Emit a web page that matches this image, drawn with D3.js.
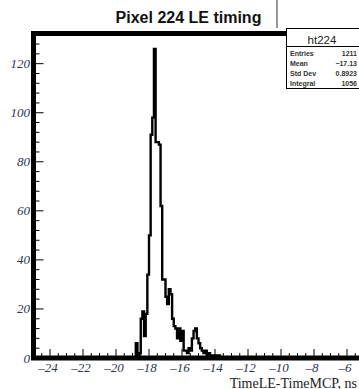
<!DOCTYPE html>
<html>
<head>
<meta charset="utf-8">
<script src="https://cdn.jsdelivr.net/npm/d3@7"></script>
<style>
  html, body { margin: 0; padding: 0; background: #fff; overflow: hidden; }
  svg { display: block; }
</style>
</head>
<body>
<div id="chart"></div>
<script>
// histogram ht224: bins of 0.1 ns starting at -19.0
const binStart = -19.0;
const binWidth = 0.1;
const counts = [
    0, 0, 6, 0, 2, 16, 19, 9, 18, 34,
    50, 91, 98, 126, 88, 88, 87, 62, 32, 32,
    25, 22, 28, 26, 16, 13, 12, 8, 12, 7,
    11, 3, 3, 2, 4, 3, 8, 11, 12, 8,
    6, 4, 3, 2, 3, 1, 2, 1, 1, 0,
    1, 0, 1, 0
];
const xTicks = [-24, -22, -20, -18, -16, -14, -12, -10, -8, -6];
const yTicks = [0, 20, 40, 60, 80, 100, 120];
const statNames = ['Entries', 'Mean', 'Std Dev', 'Integral'];
const statValues = ['1211', '\u221217.13', '0.8923', '1056'];

const width = 359, height = 389;
const svg = d3.select('#chart').append('svg')
    .attr('width', width)
    .attr('height', height);

const x = d3.scaleLinear().domain([-25, -5]).range([33.5, 363.5]);
const y = d3.scaleLinear().domain([0, 132.3]).range([358, 33.5]);

const labelColor = '#2f3550';

// Title
svg.append('text')
    .attr('x', 188.5)
    .attr('y', 23)
    .attr('text-anchor', 'middle')
    .style('font-family', '"Liberation Sans", Arial, sans-serif')
    .style('font-weight', 'bold')
    .style('font-size', '16px')
    .style('fill', '#111')
    .text('Pixel 224 LE timing');

svg.append('line')
    .attr('x1', 277).attr('x2', 277)
    .attr('y1', 0).attr('y2', 28)
    .attr('stroke', '#333')
    .attr('stroke-width', 1);

// Histogram step line
const pts = [{ v: binStart, c: 0 }];
counts.forEach((c, i) => pts.push({ v: binStart + i * binWidth, c }));
pts.push({ v: binStart + counts.length * binWidth, c: 0 });

const line = d3.line()
    .x(d => x(d.v))
    .y(d => y(d.c))
    .curve(d3.curveStepAfter);

svg.append('path')
    .datum(pts)
    .attr('fill', 'none')
    .attr('stroke', '#000')
    .attr('stroke-width', 2.4)
    .attr('stroke-linejoin', 'miter')
    .attr('d', line);

// Ticks (inside the frame)
const g = svg.append('g');
d3.range(-25, -5.01, 0.5).forEach(v => {
    const major = Math.abs(v % 2) < 1e-6;
    g.append('line')
        .attr('x1', x(v)).attr('x2', x(v))
        .attr('y1', y(0)).attr('y2', y(0) - (major ? 9 : 5))
        .attr('stroke', '#000').attr('stroke-width', 1);
});
d3.range(0, 133, 4).forEach(v => {
    const major = v % 20 === 0;
    g.append('line')
        .attr('x1', x(-25)).attr('x2', x(-25) + (major ? 10 : 6))
        .attr('y1', y(v)).attr('y2', y(v))
        .attr('stroke', '#000').attr('stroke-width', 1);
});

// Frame
svg.append('rect')
    .attr('x', x(-25))
    .attr('y', y(132.3))
    .attr('width', x(-5) - x(-25))
    .attr('height', y(0) - y(132.3))
    .attr('fill', 'none')
    .attr('stroke', '#000')
    .attr('stroke-width', 5);

// Axis labels
const fmt = d => (d < 0 ? '\u2013' : '') + Math.abs(d);
svg.append('g').selectAll('text')
    .data(xTicks).enter().append('text')
    .attr('x', d => x(d) - 2)
    .attr('y', 372)
    .attr('text-anchor', 'middle')
    .style('font-family', '"Liberation Serif", "Times New Roman", serif')
    .style('font-style', 'italic')
    .style('font-size', '13px')
    .style('fill', labelColor)
    .text(fmt);

svg.append('g').selectAll('text')
    .data(yTicks).enter().append('text')
    .attr('x', 30)
    .attr('y', d => y(d) + 4.5)
    .attr('text-anchor', 'end')
    .style('font-family', '"Liberation Serif", "Times New Roman", serif')
    .style('font-style', 'italic')
    .style('font-size', '13px')
    .style('fill', labelColor)
    .text(d => d);

svg.append('text')
    .attr('x', 357)
    .attr('y', 387.5)
    .attr('text-anchor', 'end')
    .style('font-family', '"Liberation Serif", "Times New Roman", serif')
    .style('font-size', '14px')
    .style('fill', '#222')
    .text('TimeLE-TimeMCP, ns');

// Stats box
const box = svg.append('g');
box.append('rect')
    .attr('x', 286.5).attr('y', 28.5)
    .attr('width', 76).attr('height', 60)
    .attr('fill', '#fff')
    .attr('stroke', '#000')
    .attr('stroke-width', 1);
box.append('line')
    .attr('x1', 286.5).attr('x2', 362.5)
    .attr('y1', 46.5).attr('y2', 46.5)
    .attr('stroke', '#000').attr('stroke-width', 1);
box.append('text')
    .attr('x', 322).attr('y', 43.5)
    .attr('text-anchor', 'middle')
    .style('font-family', '"Liberation Sans", Arial, sans-serif')
    .style('font-size', '11.5px')
    .style('fill', '#222')
    .text('ht224');
statNames.forEach((n, i) => {
    box.append('text')
        .attr('x', 290).attr('y', 56 + i * 10)
        .style('font-family', '"Liberation Sans", Arial, sans-serif')
        .style('font-size', '7px')
        .style('font-weight', 'bold')
        .style('fill', '#333')
        .text(n);
    box.append('text')
        .attr('x', 357).attr('y', 56 + i * 10)
        .attr('text-anchor', 'end')
        .style('font-family', '"Liberation Sans", Arial, sans-serif')
        .style('font-size', '7px')
        .style('font-weight', 'bold')
        .style('fill', '#333')
        .text(statValues[i]);
});
</script>
</body>
</html>
